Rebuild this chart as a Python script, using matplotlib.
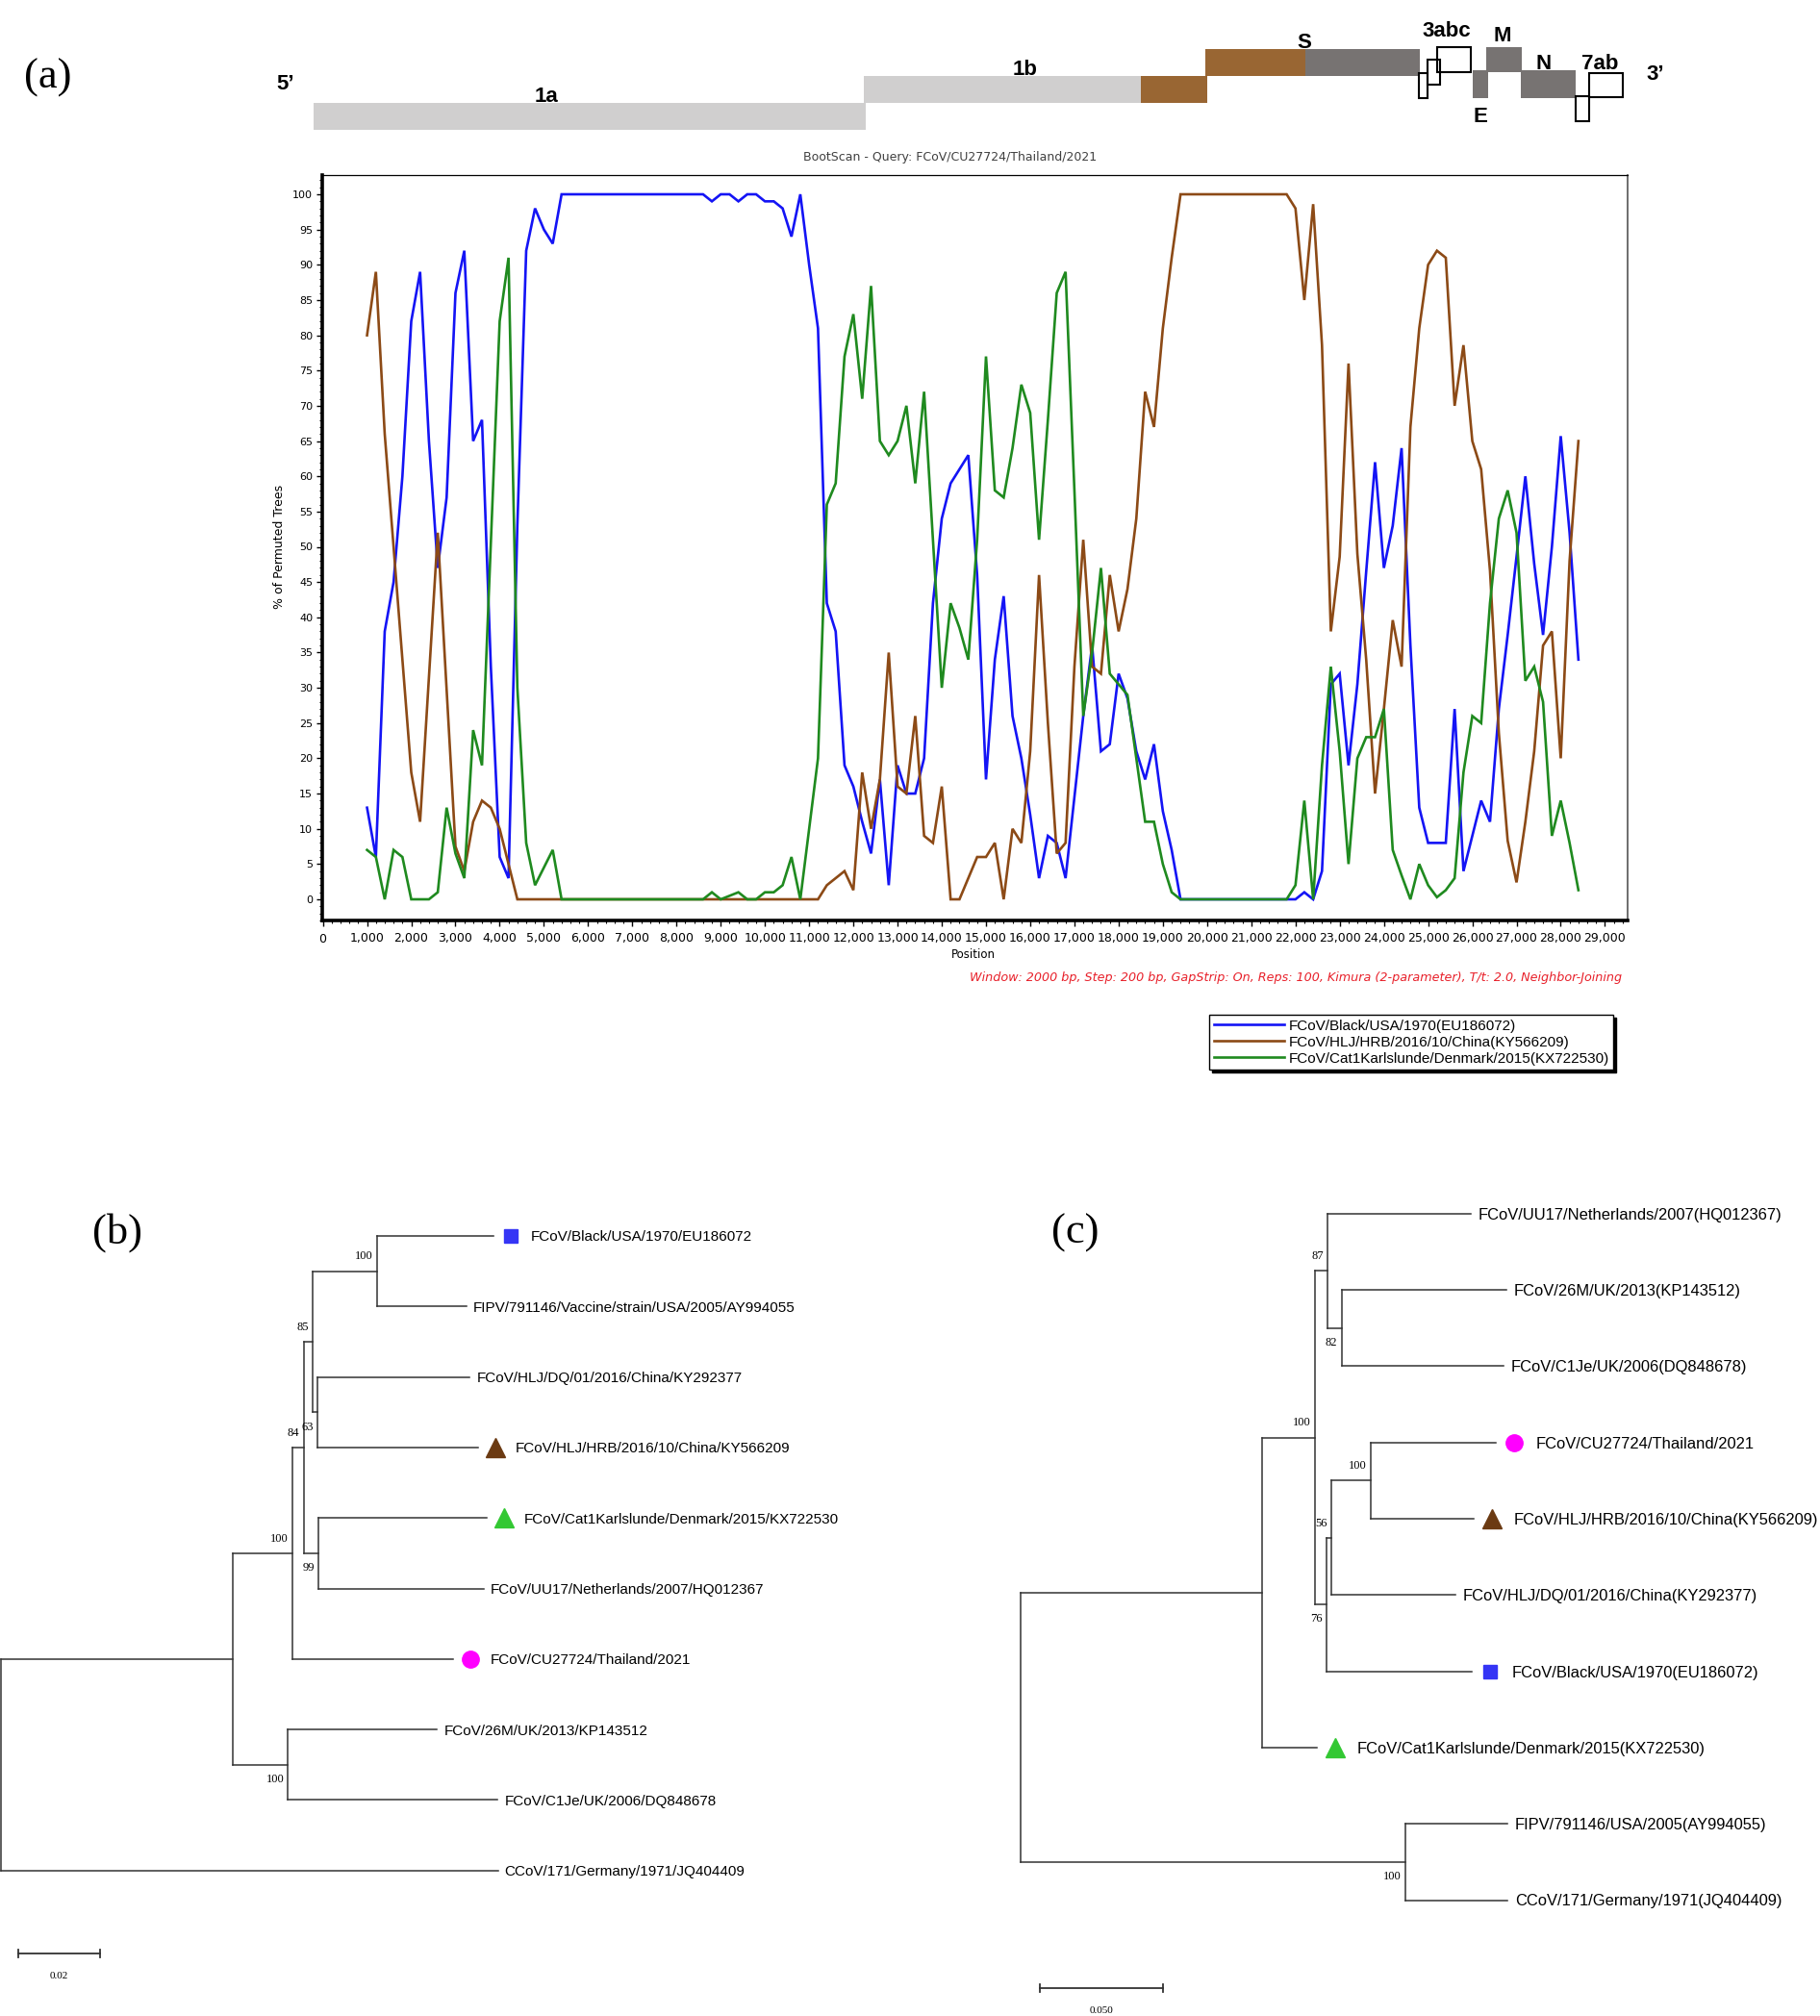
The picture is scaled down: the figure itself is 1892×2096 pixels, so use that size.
import matplotlib
matplotlib.use("Agg")
import matplotlib.pyplot as plt
import matplotlib.transforms as mtransforms
from matplotlib.patches import Rectangle
from matplotlib.ticker import MultipleLocator, FuncFormatter

plt.rcParams['font.family'] = ['DejaVu Sans']

# ======================= DATA =======================
# (a) genome map segments (nt, schematic)
seg_names = ['1a', '1b', '1b_rec', 'S_rec', 'S', '3a', '3b', '3c', 'E', 'M', 'N', '7a', '7b']
seg_start = [-200, 12240, 18500, 19960, 22230, 24790, 24990, 25200, 26010, 26310, 27100, 28340, 28640]
seg_end = [12290, 18500, 20000, 22230, 24810, 24990, 25270, 25970, 26360, 27120, 28340, 28640, 29400]

# (a) BootScan, (position, % of permuted trees) at turning points
blue_pts = [(1000, 13), (1200, 6), (1400, 38), (1600, 45), (1800, 60), (2000, 82), (2200, 89), (2400, 65),
            (2600, 47), (2800, 57), (3000, 86), (3200, 92), (3400, 65), (3600, 68), (3800, 33), (4000, 6),
            (4200, 3), (4400, 53), (4600, 92), (4800, 98), (5000, 95), (5200, 93), (5400, 100),
            (8600, 100), (8800, 99), (9000, 100), (9200, 100), (9400, 99), (9600, 100), (9800, 100),
            (10000, 99), (10200, 99), (10400, 98), (10600, 94), (10800, 100), (11000, 90), (11200, 81),
            (11400, 42), (11600, 38), (11800, 19), (12000, 16), (12200, 11), (12400, 6.5), (12600, 17),
            (12800, 2), (13000, 19), (13200, 15), (13400, 15), (13600, 20), (13800, 42), (14000, 54),
            (14200, 59), (14400, 61), (14600, 63), (14800, 46), (15000, 17), (15200, 34), (15400, 43),
            (15600, 26), (15800, 20), (16000, 12), (16200, 3), (16400, 9), (16600, 8), (16800, 3),
            (17000, 14.5), (17200, 26), (17400, 36), (17600, 21), (17800, 22), (18000, 32), (18200, 28.5),
            (18400, 21), (18600, 17), (18800, 22), (19000, 12.5), (19200, 7), (19400, 0),
            (22000, 0), (22200, 1), (22400, 0), (22600, 4), (22800, 30.5), (23000, 32), (23200, 19),
            (23400, 30.5), (23600, 46.5), (23800, 62), (24000, 47), (24200, 53), (24400, 64), (24600, 36),
            (24800, 13), (25000, 8), (25200, 8), (25400, 8), (25600, 27), (25800, 4), (26000, 9),
            (26200, 14), (26400, 11), (26600, 27), (26800, 37.5), (27000, 48.6), (27200, 60), (27400, 47.6),
            (27600, 37.5), (27800, 50), (28000, 65.7), (28200, 52), (28400, 34)]

brown_pts = [(1000, 80), (1200, 89), (1400, 66), (2000, 18), (2200, 11), (2600, 52), (3000, 7.5), (3200, 4),
             (3400, 11), (3600, 14), (3800, 13), (4000, 10), (4200, 5), (4400, 0), (11200, 0), (11400, 2),
             (11600, 3), (11800, 4), (12000, 1.3), (12200, 18), (12400, 10), (12600, 17), (12800, 35),
             (13000, 16), (13200, 15), (13400, 26), (13600, 9), (13800, 8), (14000, 16), (14200, 0),
             (14400, 0), (14600, 3), (14800, 6), (15000, 6), (15200, 8), (15400, 0), (15600, 10), (15800, 8),
             (16000, 21), (16200, 46), (16400, 25), (16600, 6.5), (16800, 8), (17000, 33), (17200, 51),
             (17400, 33), (17600, 32), (17800, 46), (18000, 38), (18200, 44), (18400, 54), (18600, 72),
             (18800, 67), (19000, 81), (19200, 91), (19400, 100), (21800, 100), (22000, 98), (22200, 85),
             (22400, 98.6), (22600, 78.6), (22800, 38), (23000, 48.6), (23200, 76), (23400, 49), (23600, 34),
             (23800, 15), (24000, 27), (24200, 39.6), (24400, 33), (24600, 67), (24800, 81), (25000, 90),
             (25200, 92), (25400, 91), (25600, 70), (25800, 78.6), (26000, 65), (26200, 61), (26400, 46.6),
             (26600, 23.6), (26800, 8.3), (27000, 2.4), (27200, 11), (27400, 21), (27600, 36), (27800, 38),
             (28000, 20), (28200, 48), (28400, 65)]

green_pts = [(1000, 7), (1200, 6), (1400, 0), (1600, 7), (1800, 6), (2000, 0), (2400, 0), (2600, 1), (2800, 13),
             (3000, 6.5), (3200, 3), (3400, 24), (3600, 19), (4000, 82), (4200, 91), (4400, 30), (4600, 8),
             (4800, 2), (5000, 4.5), (5200, 7), (5400, 0), (8600, 0), (8800, 1), (9000, 0), (9400, 1),
             (9600, 0), (9800, 0), (10000, 1), (10200, 1), (10400, 2), (10600, 6), (10800, 0), (11000, 10),
             (11200, 20), (11400, 56), (11600, 59), (11800, 77), (12000, 83), (12200, 71), (12400, 87),
             (12600, 65), (12800, 63), (13000, 65), (13200, 70), (13400, 59), (13600, 72), (13800, 51),
             (14000, 30), (14200, 42), (14400, 38.5), (14600, 34), (14800, 51), (15000, 77), (15200, 58),
             (15400, 57), (15600, 64), (15800, 73), (16000, 69), (16200, 51), (16400, 68), (16600, 86),
             (16800, 89), (17000, 58), (17200, 26), (17400, 35), (17600, 47), (17800, 32), (18000, 30.5),
             (18200, 29), (18400, 20), (18600, 11), (18800, 11), (19000, 5), (19200, 1), (19400, 0),
             (21800, 0), (22000, 2), (22200, 14), (22400, 0), (22600, 19), (22800, 33), (23000, 21),
             (23200, 5), (23400, 20), (23600, 23), (23800, 23), (24000, 27), (24200, 7), (24400, 3.4),
             (24600, 0), (24800, 5), (25000, 2), (25200, 0.3), (25400, 1.3), (25600, 3), (25800, 18),
             (26000, 26), (26200, 25), (26400, 42), (26600, 54), (26800, 58), (27000, 52), (27200, 31),
             (27400, 33), (27600, 28), (27800, 9), (28000, 14), (28200, 8), (28400, 1.3)]

series_labels = ['FCoV/Black/USA/1970(EU186072)',
                 'FCoV/HLJ/HRB/2016/10/China(KY566209)',
                 'FCoV/Cat1Karlslunde/Denmark/2015(KX722530)']
bootscan_title = 'BootScan - Query: FCoV/CU27724/Thailand/2021'
bootscan_note = ('Window: 2000 bp, Step: 200 bp, GapStrip: On, Reps: 100, Kimura (2-parameter), '
                 'T/t: 2.0, Neighbor-Joining')

# (b) tree
tree_b = ('((((((Black:0.0285,FIPV:0.0218)F:0.0158,(DQ:0.0373,HRB:0.0393)G:0.0012)D:0.0022,'
          '(Cat1:0.0412,UU17:0.0405)E:0.0036)C:0.0027,CU:0.0393)B:0.0146,'
          '(M26:0.0365,C1Je:0.0513)H:0.0135)A:0.0567,CCoV:0.1216);')
names_b = {'Black': 'FCoV/Black/USA/1970/EU186072',
           'FIPV': 'FIPV/791146/Vaccine/strain/USA/2005/AY994055',
           'DQ': 'FCoV/HLJ/DQ/01/2016/China/KY292377',
           'HRB': 'FCoV/HLJ/HRB/2016/10/China/KY566209',
           'Cat1': 'FCoV/Cat1Karlslunde/Denmark/2015/KX722530',
           'UU17': 'FCoV/UU17/Netherlands/2007/HQ012367',
           'CU': 'FCoV/CU27724/Thailand/2021',
           'M26': 'FCoV/26M/UK/2013/KP143512',
           'C1Je': 'FCoV/C1Je/UK/2006/DQ848678',
           'CCoV': 'CCoV/171/Germany/1971/JQ404409'}
support_b = {'F': 100, 'D': 85, 'C': 84, 'G': 63, 'B': 100, 'E': 99, 'H': 100}
scale_b = 0.02

# (c) tree
tree_c = ('((((UU17:0.0585,(M26:0.0672,C1Je:0.0660)U:0.0057)S:0.0050,'
          '(((CU:0.0511,HRB:0.0419)W:0.0162,DQ:0.0506)V:0.0019,Black:0.0594)T:0.0045)R:0.0217,'
          'Cat1:0.0224)P:0.0983,(FIPV:0.0415,CCoV:0.0415)Q:0.1568);')
names_c = {'UU17': 'FCoV/UU17/Netherlands/2007(HQ012367)',
           'M26': 'FCoV/26M/UK/2013(KP143512)',
           'C1Je': 'FCoV/C1Je/UK/2006(DQ848678)',
           'CU': 'FCoV/CU27724/Thailand/2021',
           'HRB': 'FCoV/HLJ/HRB/2016/10/China(KY566209)',
           'DQ': 'FCoV/HLJ/DQ/01/2016/China(KY292377)',
           'Black': 'FCoV/Black/USA/1970(EU186072)',
           'Cat1': 'FCoV/Cat1Karlslunde/Denmark/2015(KX722530)',
           'FIPV': 'FIPV/791146/USA/2005(AY994055)',
           'CCoV': 'CCoV/171/Germany/1971(JQ404409)'}
support_c = {'S': 87, 'U': 82, 'R': 100, 'W': 100, 'V': 56, 'T': 76, 'Q': 100}
scale_c = 0.05

# ======================= LAYOUT / STYLE =======================
W, H = 1892, 2096
fig = plt.figure(figsize=(W / 100, H / 100), dpi=100)
fig.patch.set_facecolor('white')


def px_axes(left, top, right, bottom):
    return fig.add_axes([left / W, 1 - bottom / H, (right - left) / W, (bottom - top) / H])


def fx(px):
    return px / W


def fy(py):
    return 1 - py / H


NT_PER_PX = 1000 / 45.96
X0_PX = 335.6
SANS = ['Liberation Sans', 'DejaVu Sans']
SERIF = ['Liberation Serif', 'DejaVu Serif']

# ---------- genome map ----------
axg = px_axes(260, 0, 1770, 145)
axg.set_xlim((260 - X0_PX) * NT_PER_PX, (1770 - X0_PX) * NT_PER_PX)
axg.set_ylim(145, 0)
axg.axis('off')
LIGHT, BROWN, DARK = '#d0cfcf', '#996633', '#777372'
seg_rows = {'1a': (107, 135), '1b': (79, 107), '1b_rec': (79, 107), 'S_rec': (51, 79), 'S': (51, 79),
            '3a': (76, 102), '3b': (62, 88), '3c': (49, 75), 'E': (73, 102), 'M': (49, 75),
            'N': (73, 102), '7a': (100, 126), '7b': (76, 101)}
seg_fill = {'1a': LIGHT, '1b': LIGHT, '1b_rec': BROWN, 'S_rec': BROWN, 'S': DARK,
            'E': DARK, 'M': DARK, 'N': DARK}
for nm, s, e in zip(seg_names, seg_start, seg_end):
    top, bot = seg_rows[nm]
    if nm in seg_fill:
        axg.add_patch(Rectangle((s, top), e - s, bot - top, facecolor=seg_fill[nm],
                                edgecolor='none', clip_on=False))
for nm, s, e in zip(seg_names, seg_start, seg_end):
    top, bot = seg_rows[nm]
    if nm not in seg_fill:
        axg.add_patch(Rectangle((s, top), e - s, bot - top, facecolor='none',
                                edgecolor='black', lw=1.5, clip_on=False))
gene_text = [('5\u2019', 297, 93), ('1a', 568, 106), ('1b', 1066, 78), ('S', 1356, 50), ('3abc', 1504, 38),
             ('M', 1562, 43), ('N', 1605, 72), ('7ab', 1663, 72), ('E', 1539, 127), ('3\u2019', 1721, 83)]
for t, px, py in gene_text:
    axg.text((px - X0_PX) * NT_PER_PX, py, t, ha='center', va='baseline', fontsize=16,
             fontweight='bold', family=SANS, clip_on=False)

fig.text(fx(50), fy(81), '(a)', fontsize=32, family=SERIF, ha='center', va='center')

# ---------- bootscan ----------
axb = px_axes(335, 182, 1692, 957)
axb.set_xlim((335 - X0_PX) * NT_PER_PX, (1692 - X0_PX) * NT_PER_PX)
Y100, Y0 = 202, 935
ppu = (Y0 - Y100) / 100
axb.set_ylim(-(957 - Y0) / ppu, 100 + (Y100 - 182) / ppu)

line_colors = ['#1414f5', '#8c4a16', '#1f8a1f']
handles = []
for pts, col in zip([blue_pts, brown_pts, green_pts], line_colors):
    xs = [p[0] for p in pts]
    ys = [p[1] for p in pts]
    ln, = axb.plot(xs, ys, color=col, lw=1.9, solid_joinstyle='miter')
    handles.append(ln)

axb.xaxis.set_major_locator(MultipleLocator(1000))
axb.xaxis.set_minor_locator(MultipleLocator(200))
axb.yaxis.set_major_locator(MultipleLocator(5))
axb.yaxis.set_minor_locator(MultipleLocator(1))
axb.xaxis.set_major_formatter(FuncFormatter(lambda v, p: f"{int(round(v)):,}"))
axb.tick_params(axis='x', which='major', length=4, width=1, labelsize=9, pad=5)
axb.tick_params(axis='y', which='major', length=4, width=1, labelsize=8, pad=3)
axb.tick_params(which='minor', length=2.5, width=0.8)
for side in ['left', 'bottom']:
    axb.spines[side].set_linewidth(2.6)
    axb.spines[side].set_color('black')
axb.spines['top'].set_linewidth(0.9)
axb.spines['right'].set_linewidth(1.2)
axb.spines['right'].set_color('#555555')

fig.text(fx(988), fy(163), bootscan_title, ha='center', va='center', fontsize=9, color='#404040')
fig.text(fx(1012), fy(993), 'Position', ha='center', va='center', fontsize=8.5)
fig.text(fx(290), fy(568), '% of Permuted Trees', ha='center', va='center', rotation=90, fontsize=9)
fig.text(fx(1686), fy(1017), bootscan_note, ha='right', va='center', fontsize=9.2,
         style='italic', color='#e8202a')

fig.legend(handles, series_labels, loc='upper left', bbox_to_anchor=(fx(1257), fy(1055)),
           frameon=True, fancybox=False, edgecolor='black', framealpha=1,
           shadow={'color': 'black', 'alpha': 1}, handlelength=4.8, handletextpad=0.3,
           borderpad=0.3, labelspacing=0.2, borderaxespad=0,
           prop={'family': SANS, 'size': 11})

# ---------- trees ----------
TREE_C = '#333333'
TREE_LW = 1.1
leaf_marks = {'Black': ('s', '#3535f5', 10.5), 'HRB': ('^', '#6b3a12', 14),
              'Cat1': ('^', '#33c833', 14), 'CU': ('o', '#ff00ff', 12.5)}


def parse_newick(s):
    s = s.strip().rstrip(';')
    i = 0

    def node():
        nonlocal i
        kids = []
        if s[i] == '(':
            i += 1
            while True:
                kids.append(node())
                ch = s[i]
                i += 1
                if ch == ')':
                    break
        j = i
        while i < len(s) and s[i] not in ',():':
            i += 1
        name = s[j:i]
        length = 0.0
        if i < len(s) and s[i] == ':':
            i += 1
            j = i
            while i < len(s) and s[i] not in ',()':
                i += 1
            length = float(s[j:i])
        return {'name': name, 'len': length, 'kids': kids}

    return node()


def place(n, x0, leaves):
    n['x'] = x0 + n['len']
    if n['kids']:
        for k in n['kids']:
            place(k, n['x'], leaves)
        n['y'] = (n['kids'][0]['y'] + n['kids'][-1]['y']) / 2
    else:
        n['y'] = len(leaves)
        leaves.append(n)


def walk(n):
    yield n
    for k in n['kids']:
        yield from walk(k)


def draw_tree(newick, names, support, below, g):
    ax = px_axes(*g['box'])
    L, T, R, B = g['box']
    ax.set_xlim((L - g['root']) / g['unit'], (R - g['root']) / g['unit'])
    ax.set_ylim((B - g['leaf0']) / g['step'], (T - g['leaf0']) / g['step'])
    ax.axis('off')
    root = parse_newick(newick)
    leaves = []
    place(root, 0.0, leaves)
    for n in walk(root):
        if not n['kids']:
            continue
        ys = [k['y'] for k in n['kids']]
        ax.plot([n['x'], n['x']], [min(ys), max(ys)], color=TREE_C, lw=TREE_LW, clip_on=False)
        for k in n['kids']:
            ax.plot([n['x'], k['x']], [k['y'], k['y']], color=TREE_C, lw=TREE_LW, clip_on=False)
        if n['name'] in support:
            dy = -11 if n['name'] in below else 11
            ax.annotate(str(support[n['name']]), (n['x'], n['y']), xytext=(-3, dy),
                        textcoords='offset points', ha='right', va='center', fontsize=9,
                        family=SERIF)
    for lf in leaves:
        if lf['name'] in leaf_marks:
            mk, col, ms = leaf_marks[lf['name']]
            tr = mtransforms.offset_copy(ax.transData, fig=fig, x=g['mark_dx'], y=0, units='points')
            ax.plot([lf['x']], [lf['y']], marker=mk, color=col, ms=ms, linestyle='none',
                    transform=tr, clip_on=False)
            dx = g['text_dx_mark']
        else:
            dx = g['text_dx']
        ax.annotate(names[lf['name']], (lf['x'], lf['y']), xytext=(dx, 0), textcoords='offset points',
                    ha='left', va='center_baseline', fontsize=g['fs'], family=SANS)
    # scale bar
    sx, sy, length, lab = g['bar']
    ax.plot([sx, sx + length], [sy, sy], color=TREE_C, lw=1.3, clip_on=False)
    for xe in (sx, sx + length):
        ax.plot([xe, xe], [sy - 0.05, sy + 0.05], color=TREE_C, lw=1.3, clip_on=False)
    ax.annotate(lab, (sx + length / 2, sy), xytext=(0, -17), textcoords='offset points',
                ha='center', va='center', fontsize=8, family=SERIF)
    return ax


geom_b = {'box': (0, 1200, 900, 2096), 'root': 1.0, 'unit': 4250.0, 'leaf0': 1285.0, 'step': 73.3,
          'mark_dx': 13.0, 'text_dx_mark': 28.0, 'text_dx': 5.0, 'fs': 11,
          'bar': ((19 - 1.0) / 4250.0, (2031 - 1285.0) / 73.3, scale_b, '0.02')}
geom_c = {'box': (1040, 1200, 1892, 2096), 'root': 1060.7, 'unit': 2554.0, 'leaf0': 1261.8, 'step': 79.3,
          'mark_dx': 13.7, 'text_dx_mark': 30.0, 'text_dx': 5.4, 'fs': 11.9,
          'bar': ((1080.8 - 1060.7) / 2554.0, (2066.7 - 1261.8) / 79.3, scale_c, '0.050')}

draw_tree(tree_b, names_b, support_b, {'G', 'E', 'H'}, geom_b)
draw_tree(tree_c, names_c, support_c, {'U', 'T', 'Q'}, geom_c)

fig.text(fx(122), fy(1282), '(b)', fontsize=32, family=SERIF, ha='center', va='center')
fig.text(fx(1118), fy(1282), '(c)', fontsize=32, family=SERIF, ha='center', va='center')

fig.savefig('out.png', dpi=100, facecolor='white')
